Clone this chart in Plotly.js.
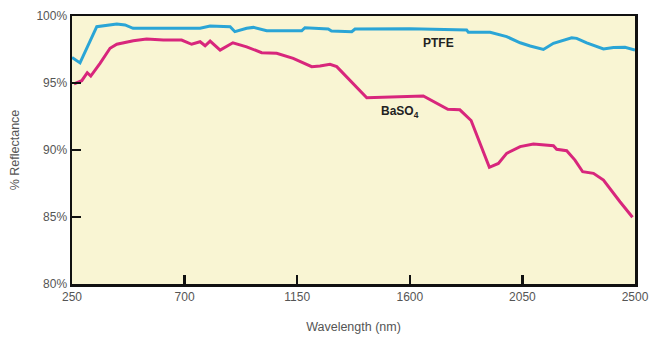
<!DOCTYPE html>
<html>
<head>
<meta charset="utf-8">
<script src="https://cdn.plot.ly/plotly-3.0.1.min.js"></script>
<style>html,body{margin:0;padding:0;background:#fff;}#chart{width:668px;height:338px;}</style>
</head>
<body>
<div id="chart"></div>
<script>
const ptfeWavelength = [250, 282, 349, 429, 462, 494, 600, 762, 802, 882, 901, 948, 975, 1028, 1168, 1181, 1274, 1287, 1368, 1381, 1600, 1721, 1827, 1834, 1921, 1987, 2041, 2081, 2134, 2174, 2247, 2267, 2307, 2374, 2414, 2460, 2500];
const ptfeReflectance = [96.9, 96.5, 99.2, 99.4, 99.33, 99.08, 99.08, 99.08, 99.25, 99.2, 98.83, 99.08, 99.15, 98.9, 98.9, 99.13, 99.03, 98.88, 98.83, 99.03, 99.05, 99.03, 98.96, 98.78, 98.78, 98.46, 98.0, 97.76, 97.5, 97.96, 98.38, 98.33, 98.0, 97.54, 97.64, 97.66, 97.46];

const baso4Wavelength = [258, 289, 311, 325, 362, 402, 429, 495, 548, 615, 688, 728, 762, 782, 802, 842, 893, 948, 1008, 1068, 1134, 1208, 1241, 1281, 1308, 1428, 1654, 1752, 1800, 1845, 1918, 1954, 1987, 2041, 2094, 2174, 2187, 2227, 2260, 2291, 2334, 2374, 2440, 2490];
const baso4Reflectance = [94.93, 95.17, 95.77, 95.52, 96.47, 97.59, 97.89, 98.16, 98.28, 98.21, 98.2, 97.89, 98.08, 97.78, 98.13, 97.46, 98.0, 97.7, 97.26, 97.22, 96.84, 96.22, 96.27, 96.39, 96.22, 93.9, 94.03, 93.04, 93.0, 92.2, 88.71, 89.0, 89.75, 90.25, 90.45, 90.32, 90.05, 89.95, 89.25, 88.38, 88.26, 87.76, 86.14, 84.98];

const xTicks = [250, 700, 1150, 1600, 2050, 2500];
const yTicks = [80, 85, 90, 95, 100];
const yTickLabels = ['80%', '85%', '90%', '95%', '100%'];

const font = 'Liberation Sans, Arial, Helvetica, sans-serif';

const traces = [
  {x: ptfeWavelength, y: ptfeReflectance, mode: 'lines', line: {color: '#2aa5d6', width: 3}, hoverinfo: 'skip'},
  {x: baso4Wavelength, y: baso4Reflectance, mode: 'lines', line: {color: '#d8267c', width: 3}, hoverinfo: 'skip'}
];

const layout = {
  width: 668, height: 338,
  margin: {l: 72, r: 33, t: 16, b: 54},
  paper_bgcolor: '#ffffff',
  plot_bgcolor: '#f9f5d3',
  showlegend: false,
  font: {family: font, color: '#555', size: 12},
  xaxis: {
    range: [250, 2500], tickvals: xTicks, ticktext: xTicks.map(String),
    showgrid: false, zeroline: false,
    showline: true, mirror: true, linecolor: '#111', linewidth: 2.5,
    ticks: 'inside', ticklen: 9, tickwidth: 2.5, tickcolor: '#111',
    tickfont: {family: font, size: 12, color: '#555'},
    title: {text: 'Wavelength (nm)', font: {family: font, size: 12.5, color: '#555'}, standoff: 20}
  },
  yaxis: {
    range: [80, 100], tickvals: yTicks, ticktext: yTickLabels,
    showgrid: false, zeroline: false,
    showline: true, mirror: true, linecolor: '#111', linewidth: 2.5,
    ticks: 'inside', ticklen: 9, tickwidth: 2.5, tickcolor: '#111',
    tickfont: {family: font, size: 12, color: '#555'},
    title: {text: '% Reflectance', font: {family: font, size: 12.5, color: '#555'}, standoff: 14}
  },
  annotations: [
    {x: 1713, y: 98.0, xref: 'x', yref: 'y', text: '<b>PTFE</b>', showarrow: false, font: {family: font, size: 12, color: '#222'}},
    {x: 1561, y: 92.84, xref: 'x', yref: 'y', text: '<b>BaSO<sub>4</sub></b>', showarrow: false, font: {family: font, size: 12, color: '#222'}}
  ]
};

Plotly.newPlot('chart', traces, layout, {staticPlot: true, displayModeBar: false});
</script>
</body>
</html>
